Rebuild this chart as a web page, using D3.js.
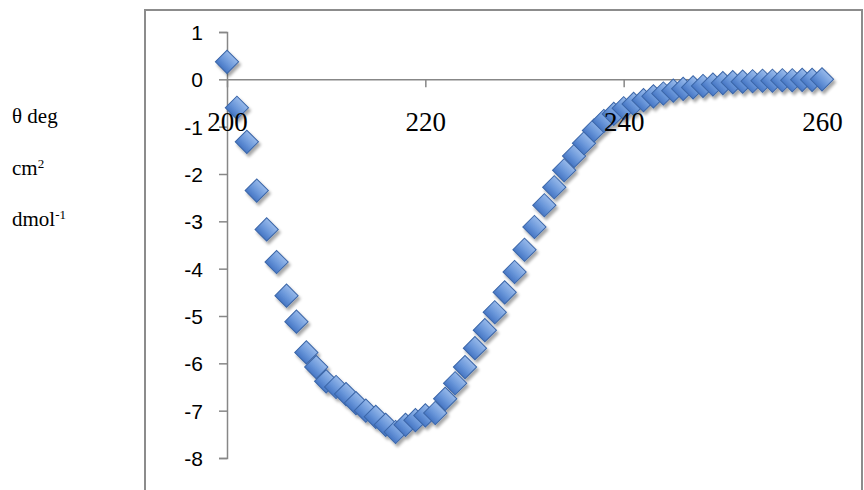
<!DOCTYPE html>
<html>
<head>
<meta charset="utf-8">
<script src="https://cdn.jsdelivr.net/npm/d3@7"></script>
<style>
    body { margin: 0; background: #ffffff; }
    #chart { width: 864px; height: 490px; }
</style>
</head>
<body>
<div id="chart"></div>
<script>
// Wavelength (nm) for every point on the curve
const wavelengths = [
    200, 201, 202, 203, 204, 205, 206, 207, 208, 209,
    210, 211, 212, 213, 214, 215, 216, 217, 218, 219,
    220, 221, 222, 223, 224, 225, 226, 227, 228, 229,
    230, 231, 232, 233, 234, 235, 236, 237, 238, 239,
    240, 241, 242, 243, 244, 245, 246, 247, 248, 249,
    250, 251, 252, 253, 254, 255, 256, 257, 258, 259, 260
];

// Ellipticity, one per wavelength
const theta = [
    0.37, -0.6, -1.32, -2.35, -3.17, -3.86, -4.57, -5.12, -5.77, -6.08,
    -6.38, -6.5, -6.65, -6.84, -7.0, -7.13, -7.3, -7.45, -7.3, -7.2,
    -7.1, -7.05, -6.75, -6.42, -6.08, -5.68, -5.3, -4.92, -4.5, -4.07,
    -3.6, -3.12, -2.66, -2.28, -1.92, -1.62, -1.35, -1.08, -0.88, -0.73,
    -0.61, -0.52, -0.44, -0.36, -0.3, -0.24, -0.2, -0.17, -0.14, -0.11,
    -0.08, -0.06, -0.05, -0.04, -0.03, -0.03, -0.02, -0.02, -0.01, -0.01, 0.0
];

// Tick labels
const xTicks = [200, 220, 240, 260];
const yTicks = [1, 0, -1, -2, -3, -4, -5, -6, -7, -8];

// y axis title, split over three lines like the original
const titleLines = [
    { text: 'θ deg', sup: '' },
    { text: 'cm', sup: '2' },
    { text: 'dmol', sup: '-1' }
];

var width = 864, height = 490;

var svg = d3.select('#chart')
    .append('svg')
    .attr('width', width)
    .attr('height', height);

// gradient + soft shadow for the diamond markers
var defs = svg.append('defs');
var grad = defs.append('linearGradient')
    .attr('id', 'markerFill')
    .attr('x1', 0).attr('y1', 0).attr('x2', 0).attr('y2', 1);
grad.append('stop').attr('offset', '0%').attr('stop-color', '#97b9ea');
grad.append('stop').attr('offset', '55%').attr('stop-color', '#6a97da');
grad.append('stop').attr('offset', '100%').attr('stop-color', '#4676c4');

var shadow = defs.append('filter')
    .attr('id', 'shadow')
    .attr('x', '-50%').attr('y', '-50%')
    .attr('width', '200%').attr('height', '200%');
shadow.append('feDropShadow')
    .attr('dx', 2).attr('dy', 3)
    .attr('stdDeviation', 1.8)
    .attr('flood-color', '#000000')
    .attr('flood-opacity', 0.35);

// plot frame (runs off the bottom of the picture)
svg.append('rect')
    .attr('x', 145)
    .attr('y', 10)
    .attr('width', 717)
    .attr('height', 520)
    .style('fill', 'none')
    .style('stroke', '#8c8c8c')
    .style('stroke-width', 2);

// scales
const x = d3.scaleLinear()
    .domain([200, 260])
    .range([227, 822]);

const y = d3.scaleLinear()
    .domain([-8, 1])
    .range([458, 32]);

// plain hyphen for negatives, like the original (d3 uses a unicode minus)
var plainNumber = d => String(d);

// axis lines and ticks (drawn under the markers)
var xAxis = svg.append('g')
    .attr('transform', 'translate(0,' + y(0) + ')')
    .call(d3.axisBottom(x).tickValues(xTicks).tickSizeInner(8).tickSizeOuter(0).tickFormat(''));

var yAxis = svg.append('g')
    .attr('transform', 'translate(' + x(200) + ',0)')
    .call(d3.axisLeft(y).tickValues(yTicks).tickSize(8).tickFormat(''));

svg.selectAll('.domain, .tick line')
    .style('stroke', '#878787')
    .style('stroke-width', 1.5);

// markers
var points = wavelengths.map((w, i) => ({ w: w, v: theta[i] }));
var diamond = d3.symbol().type(d3.symbolSquare).size(270);

svg.append('g')
    .attr('filter', 'url(#shadow)')
    .selectAll('path')
    .data(points)
    .enter().append('path')
        .attr('d', diamond)
        .attr('transform', d => 'translate(' + x(d.w) + ',' + y(d.v) + ') rotate(45)')
        .style('fill', 'url(#markerFill)')
        .style('stroke', '#3b66a8')
        .style('stroke-width', 1);

// tick labels go on top of the markers, like in the original
var xLabels = svg.append('g')
    .attr('transform', 'translate(0,' + y(0) + ')')
    .call(d3.axisBottom(x).tickValues(xTicks).tickSize(0).tickFormat(plainNumber));
xLabels.select('.domain').remove();
xLabels.selectAll('text')
    .attr('y', 52)
    .attr('dy', 0)
    .style('font-family', '"Liberation Serif", serif')
    .style('font-size', '27px')
    .style('fill', '#000000');

var yLabels = svg.append('g')
    .attr('transform', 'translate(' + x(200) + ',0)')
    .call(d3.axisLeft(y).tickValues(yTicks).tickSize(8).tickPadding(16).tickFormat(plainNumber));
yLabels.select('.domain').remove();
yLabels.selectAll('line').remove();
yLabels.selectAll('text')
    .attr('dy', '0.36em')
    .style('font-family', '"Liberation Sans", Arial, sans-serif')
    .style('font-size', '21px')
    .style('fill', '#000000');

// y axis title on the far left
var title = svg.append('g');
titleLines.forEach((line, i) => {
    var t = title.append('text')
        .attr('x', 12)
        .attr('y', 123 + i * 51.5)
        .style('font-family', '"Liberation Serif", serif')
        .style('font-size', '21px')
        .style('fill', '#000000')
        .text(line.text);
    if (line.sup) {
        t.append('tspan')
            .attr('dy', -7)
            .style('font-size', '13px')
            .text(line.sup);
    }
});
</script>
</body>
</html>
